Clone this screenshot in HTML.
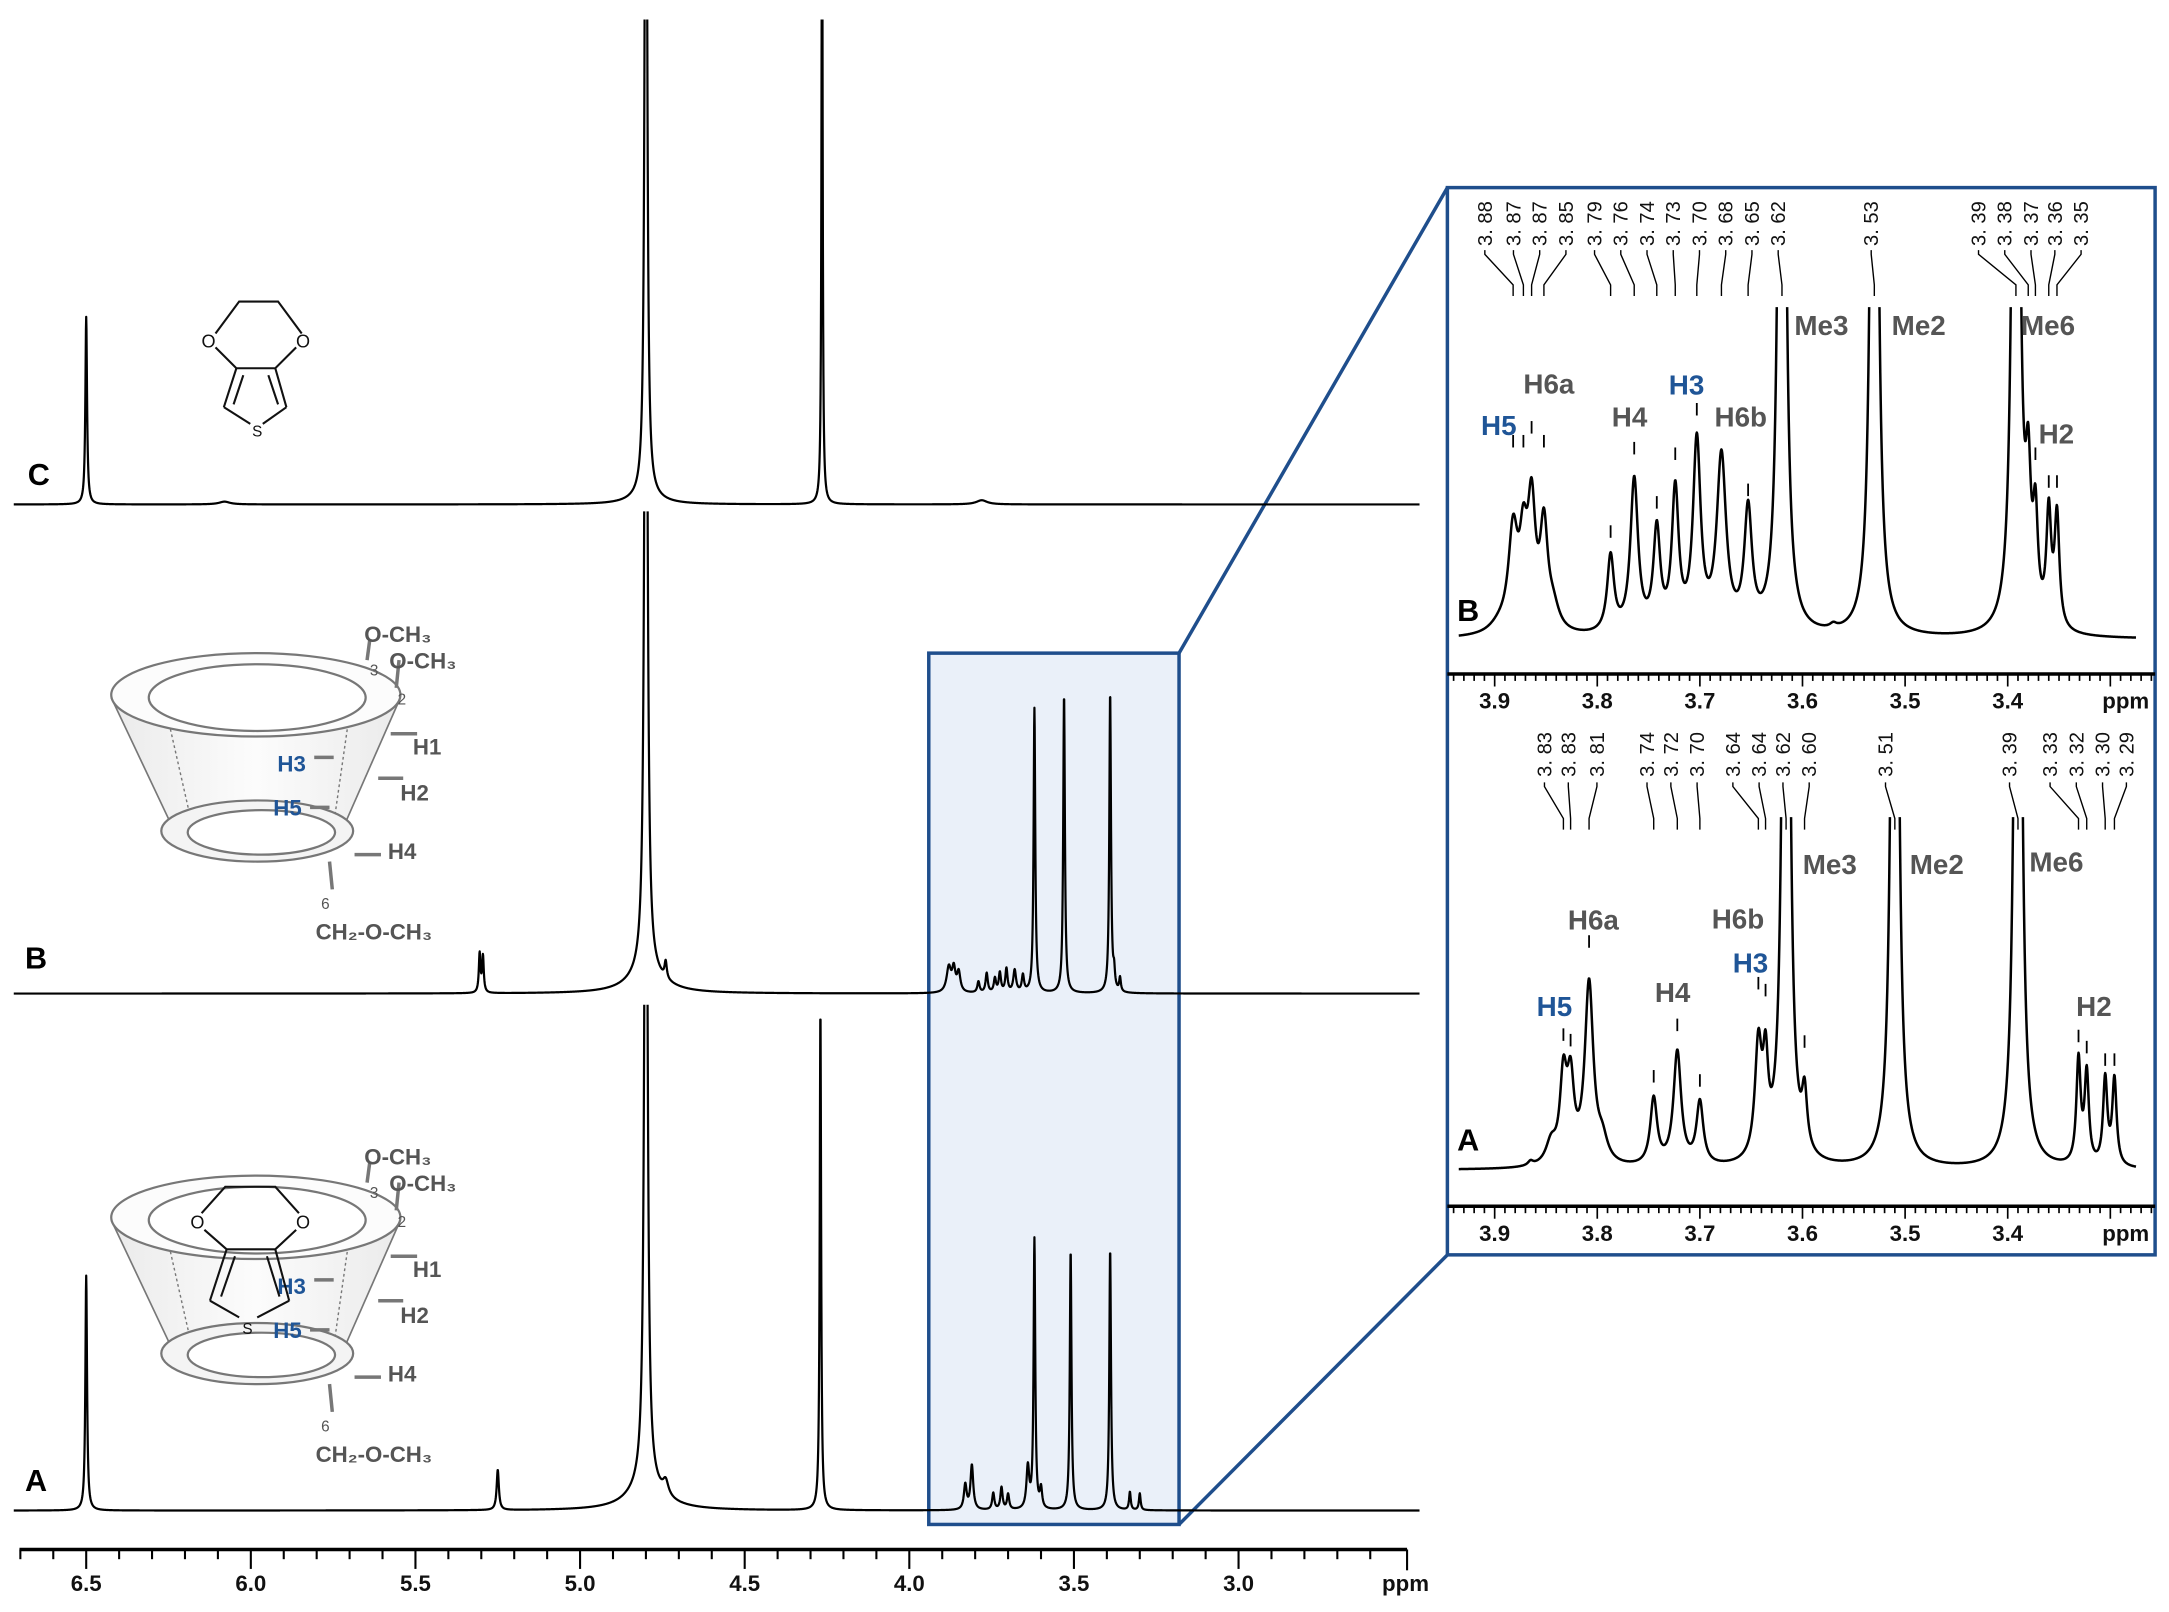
<!DOCTYPE html>
<html><head><meta charset="utf-8"><style>
html,body{margin:0;padding:0;background:#fff;}
svg{display:block;}
text{font-family:"Liberation Sans",sans-serif;}
.lb{font-weight:bold;font-size:20px;fill:#555;}
.bl{font-weight:bold;font-size:20px;fill:#1f5597;}
.ax{font-weight:bold;font-size:16px;fill:#111;}
.sm{font-size:13px;fill:#111;}
.rt{font-size:14.5px;fill:#111;}
.cd{font-weight:bold;font-size:16px;fill:#555;}
</style></head><body>
<svg id="s" width="2169" height="1612" viewBox="0 0 1560 1160" preserveAspectRatio="none" xmlns="http://www.w3.org/2000/svg">
<defs>
<linearGradient id="g" x1="0" y1="0" x2="1" y2="0"><stop offset="0" stop-color="#ddd"/><stop offset="0.5" stop-color="#fafafa"/><stop offset="1" stop-color="#ddd"/></linearGradient>
<clipPath id="cC"><rect x="0" y="14" width="1560" height="400"/></clipPath>
<clipPath id="cB"><rect x="0" y="368" width="1560" height="400"/></clipPath>
<clipPath id="cA"><rect x="0" y="723" width="1560" height="400"/></clipPath>
<clipPath id="iB"><rect x="1040" y="221" width="520" height="300"/></clipPath>
<clipPath id="iA"><rect x="1040" y="588" width="520" height="300"/></clipPath>
</defs>
<rect x="668" y="470" width="180" height="627" fill="#eaf0f9" stroke="#1f4e8c" stroke-width="2.5"/>
<line x1="848" y1="470" x2="1041" y2="135" stroke="#1f4e8c" stroke-width="2.5"/>
<line x1="848" y1="1097" x2="1041" y2="903" stroke="#1f4e8c" stroke-width="2.5"/>
<rect x="1041" y="135" width="509" height="768" fill="#fff" stroke="#1f4e8c" stroke-width="2.5"/>
<g id="main"></g>
<g id="ins"></g>
<text x="20" y="349" style="font-weight:bold;font-size:22px">C</text>
<text x="18" y="697" style="font-weight:bold;font-size:22px">B</text>
<text x="18" y="1073" style="font-weight:bold;font-size:22px">A</text>
<text x="1048" y="447" style="font-weight:bold;font-size:22px">B</text>
<text x="1048" y="828" style="font-weight:bold;font-size:22px">A</text>
<g stroke="#111" stroke-width="1.5" fill="none">
<polyline points="155,240 172,217 200,217 217,240"/>
<polyline points="155,250 170,265 198,265 213,250"/>
<line x1="170" y1="265" x2="161" y2="293"/><line x1="175" y1="270" x2="168" y2="291"/>
<line x1="198" y1="265" x2="206" y2="293"/><line x1="193" y1="270" x2="200" y2="291"/>
<polyline points="161,293 180,305"/><polyline points="206,293 189,305"/>
</g>
<text x="150" y="250" class="sm" text-anchor="middle">O</text>
<text x="218" y="250" class="sm" text-anchor="middle">O</text>
<text x="185" y="314" class="sm" text-anchor="middle" style="font-size:11px">S</text>
<g id="cones"></g>
</svg>
<script>
var NS="http://www.w3.org/2000/svg";
function el(p,t,a){var e=document.createElementNS(NS,t);for(var k in a)e.setAttribute(k,a[k]);p.appendChild(e);return e;}
var M=document.getElementById('main'),I=document.getElementById('ins'),C=document.getElementById('cones');
function lor(p,c,w){var d=(p-c)/w;return 1/(1+d*d);}
function spec(g,peaks,xmap,p0,p1,step,base,clip,sw){
 var pts=[];for(var p=p0;p>=p1;p-=step){var y=0;for(var i=0;i<peaks.length;i++){var k=peaks[i];y+=k[1]*lor(p,k[0],k[2]);}
 var yy=base-y;if(yy<-50)yy=-50;pts.push(xmap(p).toFixed(2)+","+yy.toFixed(2));}
 el(g,'polyline',{points:pts.join(' '),fill:'none',stroke:'#000','stroke-width':sw||1.6,'stroke-linejoin':'round','clip-path':'url(#'+clip+')'});}
var mx=function(p){return 62+(6.5-p)*236.8;};
spec(M,[[6.5,135,0.003],[4.80,700,0.004],[4.8,6,0.05],[4.265,500,0.002],[3.78,3,0.02],[6.08,2,0.02]],mx,6.72,2.45,0.0008,363,'cC');
spec(M,[[5.305,28,0.003],[5.295,26,0.003],[4.80,700,0.005],[4.8,15,0.06],[4.74,12,0.004],[3.88,18,0.008],[3.865,16,0.006],[3.85,14,0.006],[3.79,8,0.004],[3.765,14,0.004],[3.74,10,0.004],[3.725,14,0.004],[3.705,17,0.004],[3.68,16,0.005],[3.655,12,0.004],[3.62,205,0.003],[3.53,215,0.003],[3.39,216,0.003],[3.378,12,0.003],[3.36,10,0.003]],mx,6.72,2.45,0.0008,715,'cB');
spec(M,[[6.5,169,0.003],[5.25,29,0.004],[4.80,700,0.005],[4.8,18,0.06],[4.74,10,0.01],[4.27,362,0.0025],[3.83,18,0.005],[3.81,32,0.005],[3.745,12,0.004],[3.72,16,0.004],[3.70,11,0.004],[3.64,30,0.005],[3.62,194,0.003],[3.60,14,0.004],[3.51,187,0.003],[3.39,188,0.003],[3.33,13,0.003],[3.30,12,0.003]],mx,6.72,2.45,0.0008,1087,'cA');
el(M,'line',{x1:14,y1:1115,x2:1012,y2:1115,stroke:'#000','stroke-width':2.5});
for(var p=6.7;p>=2.6;p-=0.1){var pp=Math.round(p*10)/10;var x=mx(pp);if(x<14||x>1012)continue;var maj=Math.abs(pp*2-Math.round(pp*2))<0.01;
 el(M,'line',{x1:x,y1:1115,x2:x,y2:1115+(maj?14:7),stroke:'#000','stroke-width':1.5});
 if(maj&&pp>=3){var t=el(M,'text',{x:x,y:1145,'text-anchor':'middle','class':'ax'});t.textContent=pp.toFixed(1);}}
el(M,'line',{x1:1012,y1:1115,x2:1012,y2:1130,stroke:'#000','stroke-width':1.5});
var t=el(M,'text',{x:994,y:1145,'class':'ax'});t.textContent='ppm';
var ix=function(p){return 1075+(3.9-p)*738;};
var gB=el(I,'g',{});
spec(gB,[[3.895,6,0.012],[3.882,70,0.0055],[3.872,55,0.0045],[3.864,85,0.0045],[3.852,72,0.0045],[3.843,15,0.007],[3.787,55,0.004],[3.764,110,0.0045],[3.742,72,0.004],[3.724,100,0.004],[3.703,135,0.0045],[3.679,125,0.0055],[3.653,85,0.0045],[3.62,900,0.003],[3.53,900,0.003],[3.392,900,0.003],[3.38,90,0.003],[3.373,70,0.0028],[3.360,80,0.0028],[3.352,80,0.0028],[3.57,3,0.004]],ix,3.935,3.275,0.0004,460,'iB',1.8);
var gA=el(I,'g',{});
spec(gA,[[3.865,3,0.003],[3.845,15,0.006],[3.833,60,0.004],[3.826,55,0.004],[3.808,130,0.005],[3.795,15,0.006],[3.745,48,0.004],[3.722,82,0.0045],[3.70,45,0.004],[3.643,80,0.004],[3.636,60,0.003],[3.616,900,0.003],[3.598,40,0.003],[3.51,900,0.003],[3.39,900,0.003],[3.331,75,0.0025],[3.323,65,0.0025],[3.305,62,0.0025],[3.296,62,0.0025]],ix,3.935,3.275,0.0004,842,'iA',1.8);
function iaxis(y){el(I,'line',{x1:1041,y1:y,x2:1550,y2:y,stroke:'#000','stroke-width':2.5});
 for(var i=0;i<70;i++){var p=3.95-i*0.01;var pp=Math.round(p*100)/100;var x=ix(pp);if(x<1042||x>1549)continue;var maj=Math.abs(pp*10-Math.round(pp*10))<0.01;
  el(I,'line',{x1:x,y1:y,x2:x,y2:y+(maj?9:5),stroke:'#000','stroke-width':1.2});
  if(maj&&pp>=3.35){var t=el(I,'text',{x:x,y:y+25,'text-anchor':'middle','class':'ax'});t.textContent=pp.toFixed(1);}}
 var t=el(I,'text',{x:1512,y:y+25,'class':'ax'});t.textContent='ppm';}
iaxis(485);iaxis(868);
function labels(list,ty,lt,lb){for(var i=0;i<list.length;i++){var L=list[i];var zx=L[0];var x=(1430+zx*0.477)/1.3904;
 var t=el(I,'text',{'class':'rt',transform:'translate('+(x+5)+','+ty+') rotate(-90)'});t.textContent=L[1].toFixed(2).replace('.','. ');
 var px=ix(L[2]);el(I,'polyline',{points:x+','+lt+' '+x+','+(lt+3)+' '+px+','+(lb-8)+' '+px+','+lb,fill:'none',stroke:'#000','stroke-width':1});}}
labels([[115,3.88,3.882],[175,3.87,3.872],[230,3.87,3.864],[285,3.85,3.852],[345,3.79,3.787],[400,3.76,3.764],[455,3.74,3.742],[510,3.73,3.724],[565,3.70,3.703],[620,3.68,3.679],[675,3.65,3.653],[730,3.62,3.62],[925,3.53,3.53],[1150,3.39,3.392],[1205,3.38,3.38],[1260,3.37,3.373],[1310,3.36,3.36],[1365,3.35,3.352]],177,180,213);
labels([[240,3.83,3.833],[290,3.83,3.826],[350,3.81,3.808],[455,3.74,3.745],[505,3.72,3.722],[560,3.70,3.70],[635,3.64,3.643],[690,3.64,3.636],[740,3.62,3.616],[795,3.60,3.598],[955,3.51,3.51],[1215,3.39,3.39],[1300,3.33,3.331],[1355,3.32,3.323],[1410,3.30,3.305],[1460,3.29,3.296]],559,563,597);
function dash(p,y){var x=ix(p);el(I,'line',{x1:x,y1:y,x2:x,y2:y+9,stroke:'#000','stroke-width':1.3});}
[[3.882,313],[3.872,313],[3.864,303],[3.852,313],[3.787,378],[3.764,318],[3.742,357],[3.724,322],[3.703,290],[3.653,348],[3.38,304],[3.373,322],[3.360,342],[3.352,342]].forEach(function(d){dash(d[0],d[1]);});
[[3.833,740],[3.826,744],[3.808,673],[3.745,770],[3.722,733],[3.70,773],[3.643,703],[3.636,708],[3.598,745],[3.331,741],[3.323,749],[3.305,758],[3.296,758]].forEach(function(d){dash(d[0],d[1]);});
function tx(g,x,y,s,c,a){var t=el(g,'text',{x:x,y:y,'class':c,'text-anchor':a||'middle'});t.textContent=s;return t;}
tx(I,1078,313,'H5','bl');tx(I,1114,283,'H6a','lb');tx(I,1172,307,'H4','lb');tx(I,1213,284,'H3','bl');tx(I,1252,307,'H6b','lb');
tx(I,1310,241,'Me3','lb');tx(I,1380,241,'Me2','lb');tx(I,1473,241,'Me6','lb');tx(I,1479,319,'H2','lb');
tx(I,1118,731,'H5','bl');tx(I,1146,669,'H6a','lb');tx(I,1203,721,'H4','lb');tx(I,1250,668,'H6b','lb');tx(I,1259,700,'H3','bl');
tx(I,1316,629,'Me3','lb');tx(I,1393,629,'Me2','lb');tx(I,1479,627,'Me6','lb');tx(I,1506,731,'H2','lb');
function cone(dy,edot){var g=el(C,'g',{transform:'translate(0,'+dy+')'});
 el(g,'path',{d:'M80,502 L123,593 A62,20 0 0 0 248,593 L288,502 Z',fill:'url(#g)',stroke:'none',opacity:0.6});
 el(g,'line',{x1:119,y1:509,x2:138,y2:593,stroke:'#777','stroke-width':1,'stroke-dasharray':'2,2'});
 el(g,'line',{x1:252,y1:509,x2:240,y2:593,stroke:'#777','stroke-width':1,'stroke-dasharray':'2,2'});
 el(g,'line',{x1:80,y1:502,x2:123,y2:593,stroke:'#777','stroke-width':1.2});
 el(g,'line',{x1:288,y1:502,x2:248,y2:593,stroke:'#777','stroke-width':1.2});
 el(g,'ellipse',{cx:184,cy:500,rx:104,ry:30,fill:'#fcfcfc',stroke:'#777','stroke-width':1.6});
 el(g,'ellipse',{cx:185,cy:502,rx:78,ry:24,fill:'#fff',stroke:'#777','stroke-width':1.6});
 el(g,'ellipse',{cx:185,cy:598,rx:69,ry:22,fill:'#f4f4f4',stroke:'#777','stroke-width':1.6});
 el(g,'ellipse',{cx:188,cy:599,rx:53,ry:16,fill:'#fff',stroke:'#777','stroke-width':1.6});
 var ls=[[266,460,264,475],[287,475,285,495],[281,528,300,528],[226,545,240,545],[272,560,290,560],[223,581,237,581],[255,615,274,615],[237,620,239,640]];
 ls.forEach(function(l){el(g,'line',{x1:l[0],y1:l[1],x2:l[2],y2:l[3],stroke:'#777','stroke-width':2.5});});
 tx(g,262,462,'O-CH₃','cd','start');tx(g,280,481,'O-CH₃','cd','start');
 tx(g,266,486,'3','sm','start').setAttribute('style','fill:#555;font-size:11px');
 tx(g,286,507,'2','sm','start').setAttribute('style','fill:#555;font-size:11px');
 tx(g,297,543,'H1','cd','start');tx(g,220,555,'H3','bl','end').setAttribute('style','font-size:16px');
 tx(g,288,576,'H2','cd','start');tx(g,217,587,'H5','bl','end').setAttribute('style','font-size:16px');
 tx(g,279,618,'H4','cd','start');
 tx(g,231,654,'6','sm','start').setAttribute('style','fill:#555;font-size:11px');
 tx(g,227,676,'CH₂-O-CH₃','cd','start');
 if(edot){var e=el(g,'g',{stroke:'#111','stroke-width':1.5,fill:'none'});
  el(e,'polyline',{points:'145,497 162,478 198,478 215,497'});
  el(e,'polyline',{points:'147,509 163,523 198,523 213,509'});
  el(e,'line',{x1:163,y1:523,x2:151,y2:560});el(e,'line',{x1:169,y1:528,x2:159,y2:557});
  el(e,'line',{x1:198,y1:523,x2:208,y2:560});el(e,'line',{x1:192,y1:528,x2:201,y2:557});
  el(e,'line',{x1:151,y1:560,x2:172,y2:572});el(e,'line',{x1:208,y1:560,x2:185,y2:572});
  tx(g,142,508,'O','sm');tx(g,218,508,'O','sm');tx(g,178,584,'S','sm').setAttribute('style','font-size:11px');}}
cone(0,false);cone(376,true);
</script>
</body></html>
